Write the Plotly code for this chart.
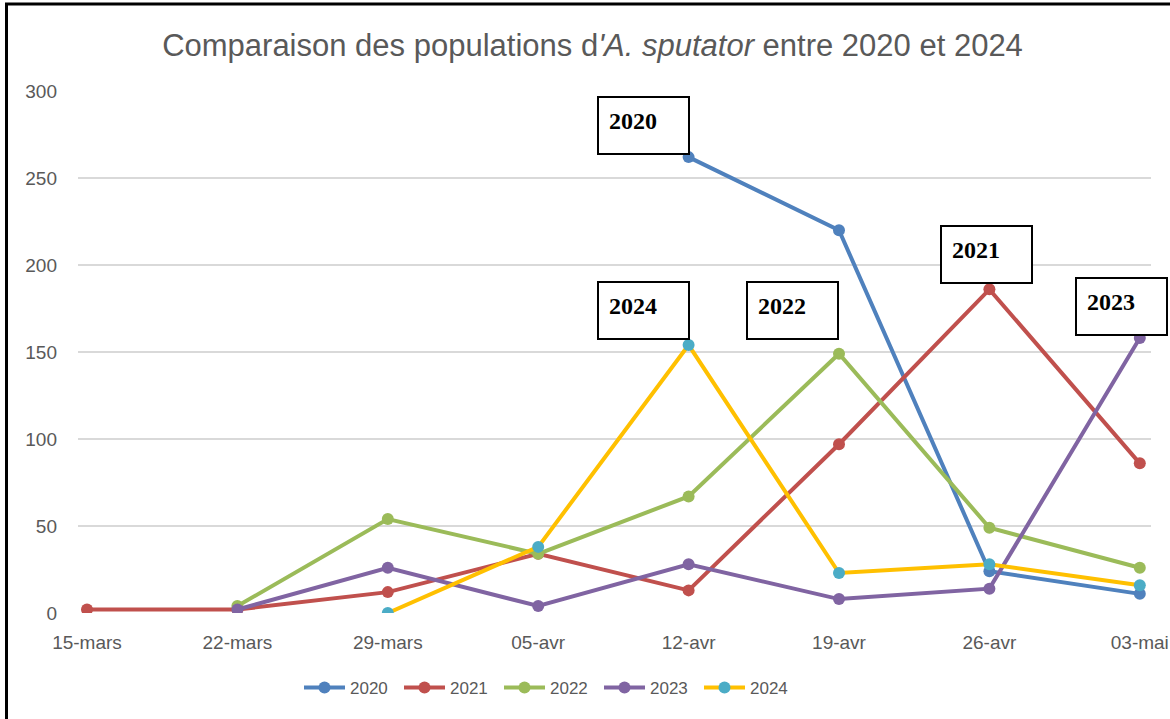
import plotly.graph_objects as go

categories = ["15-mars", "22-mars", "29-mars", "05-avr", "12-avr", "19-avr", "26-avr", "03-mai"]
y2020 = [None, None, None, None, 262, 220, 24, 11]
y2021 = [2, 2, 12, 34, 13, 97, 186, 86]
y2022 = [None, 4, 54, 34, 67, 149, 49, 26]
y2023 = [None, 2, 26, 4, 28, 8, 14, 158]
y2024 = [None, None, 0, 38, 154, 23, 28, 16]
y_ticks = [0, 50, 100, 150, 200, 250, 300]

series = [
    ("2020", y2020, "#4F81BD", "#4F81BD"),
    ("2021", y2021, "#C0504D", "#C0504D"),
    ("2022", y2022, "#9BBB59", "#9BBB59"),
    ("2023", y2023, "#8064A2", "#8064A2"),
    ("2024", y2024, "#FFC000", "#4BACC6"),
]

W, H = 1170, 719
L, R, T, B = 78, 1151, 91, 613
TXT = "#595959"
FONT = "Liberation Sans"

fig = go.Figure()
idx = list(range(len(categories)))
for name, vals, lc, mc in series:
    fig.add_trace(go.Scatter(
        x=idx, y=vals, name=name, mode="lines+markers",
        line=dict(color=lc, width=4),
        marker=dict(color=mc, size=12),
        connectgaps=False,
    ))

def px_x(p):
    return (p - L) / (R - L)

def px_y(p):
    return (B - p) / (B - T)

# annotation boxes: (label, left px, top px)
boxes = [("2020", 597, 96), ("2024", 597, 281), ("2022", 746, 281), ("2021", 940, 225), ("2023", 1075, 277)]
for lab, bx, by in boxes:
    fig.add_annotation(
        x=px_x(bx), y=px_y(by), xref="paper", yref="paper",
        xanchor="left", yanchor="top", showarrow=False,
        text="<b>" + lab + "</b>",
        font=dict(family="Liberation Serif", size=24, color="black"),
        align="left", valign="top",
        width=69, height=35, borderpad=10,
        bordercolor="black", borderwidth=2, bgcolor="white",
    )

# outer frame (left and top edges)
fig.add_shape(type="line", xref="paper", yref="paper",
              x0=px_x(6.5), x1=px_x(6.5), y0=px_y(4), y1=px_y(730),
              line=dict(color="black", width=3))
fig.add_shape(type="line", xref="paper", yref="paper",
              x0=px_x(5), x1=px_x(1180), y0=px_y(4), y1=px_y(4),
              line=dict(color="black", width=3))

x0 = -(87 - L) / 150.4
x1 = x0 + (R - L) / 150.4

fig.update_layout(
    width=W, height=H,
    margin=dict(l=L, r=W - R, t=T, b=H - B, autoexpand=False),
    paper_bgcolor="white", plot_bgcolor="white",
    font=dict(family=FONT, color=TXT, size=18),
    title=dict(
        text="Comparaison des populations d<i>'A. sputator</i> entre 2020 et 2024",
        x=592.5 / W, xref="container", xanchor="center",
        y=1 - 45 / H, yanchor="middle",
        font=dict(family=FONT, size=31, color=TXT),
    ),
    showlegend=True,
    legend=dict(
        orientation="h", x=px_x(299), xanchor="left",
        y=px_y(688), yanchor="middle",
        entrywidth=44, entrywidthmode="pixels", itemwidth=41,
        font=dict(family=FONT, size=17, color=TXT),
        bgcolor="rgba(0,0,0,0)",
    ),
    xaxis=dict(
        tickmode="array", tickvals=idx, ticktext=categories,
        range=[x0, x1], showgrid=False, zeroline=False, automargin=False,
        showline=False, ticks="", ticklabelstandoff=16,
        tickfont=dict(family=FONT, size=19, color=TXT),
    ),
    yaxis=dict(
        range=[0, 300], tickvals=y_ticks, showgrid=True, automargin=False,
        gridcolor="#D9D9D9", gridwidth=1.5, zeroline=False, showline=False,
        ticks="", ticklabelstandoff=20,
        tickfont=dict(family=FONT, size=19, color=TXT),
    ),
)

fig.write_html("out.html", config={"displayModeBar": False},
               post_script="document.body.style.margin='0';document.body.style.overflow='hidden';")
